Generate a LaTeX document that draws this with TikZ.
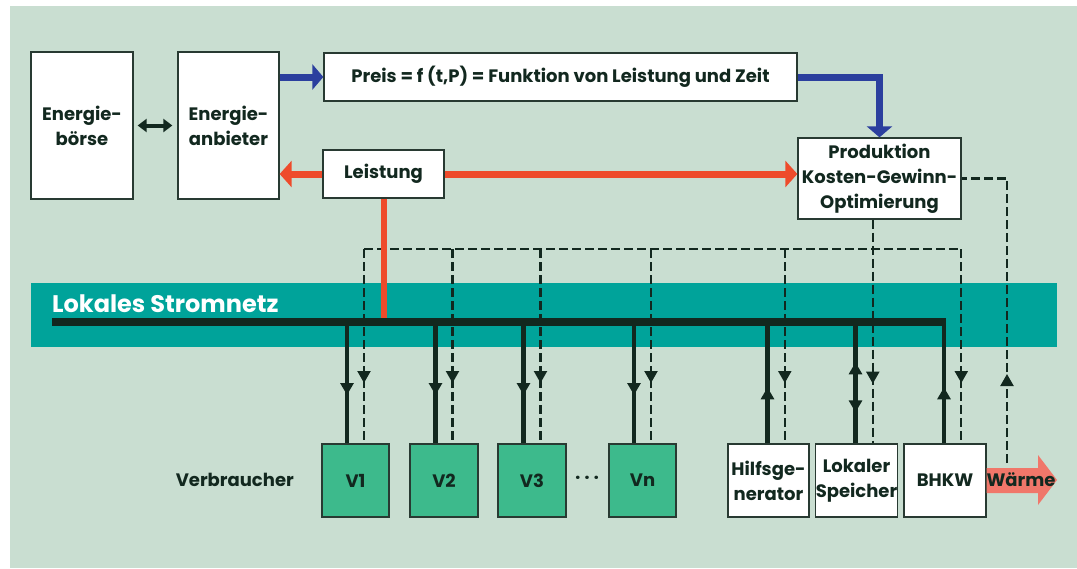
\documentclass[tikz,border=0pt]{standalone}
\usepackage{fontspec}
\setmainfont{Poppins}
\usetikzlibrary{arrows.meta,decorations.markings}
\definecolor{bgc}{RGB}{201,222,209}
\definecolor{bandc}{RGB}{0,163,154}
\definecolor{vgreen}{RGB}{61,186,140}
\definecolor{bluec}{RGB}{43,63,158}
\definecolor{redc}{RGB}{238,75,43}
\definecolor{salmon}{RGB}{240,119,106}
\definecolor{dark}{RGB}{18,40,31}
\definecolor{boxline}{RGB}{40,58,50}
\tikzset{
  txt/.style={font=\bfseries\fontsize{18}{25}\selectfont, text=dark},
  box/.style={txt, draw=boxline, line width=1.3pt, fill=white, inner sep=0pt, align=center},
  gbox/.style={box, fill=vgreen},
  fatblue/.style={draw=bluec, line width=7pt, -{Triangle[length=11pt,width=25pt]}},
  fatred/.style={draw=redc, line width=7pt, -{Triangle[length=12pt,width=26pt]}},
  busline/.style={draw=dark, line width=8pt},
  solidc/.style={draw=dark, line width=4.5pt},
  dashc/.style={draw=dark, line width=2.2pt, dash pattern=on 9pt off 4pt},
  markfwd/.style={postaction={decorate, decoration={markings, mark=at position #1 with {\arrow{Triangle[length=12pt,width=13pt]}}}}},
  markback/.style={postaction={decorate, decoration={markings, mark=at position #1 with {\arrowreversed{Triangle[length=12pt,width=13pt]}}}}},
}
\begin{document}
\begin{tikzpicture}[x=1pt,y=-1pt]
\useasboundingbox (0,0) rectangle (1077,568);
\fill[bgc] (10,6) rectangle (1077,568);
\fill[bandc] (31,283) rectangle (1057,347);
\node[anchor=base west, text=white, inner sep=0pt, font=\bfseries\fontsize{24}{24}\selectfont] (netz) at (52,312) {Lokales Stromnetz};

% top boxes
\node[box, minimum width=102pt, minimum height=147pt] (boerse) at (82,125.5) {Energie-\\börse};
\node[box, minimum width=101pt, minimum height=147pt] (anbieter) at (228.5,125.5) {Energie-\\anbieter};
\node[box, minimum width=473pt, minimum height=48pt] (preis) at (560.5,77) {Preis = f (t,P) = Funktion von Leistung und Zeit};
\node[box, minimum width=163pt, minimum height=81pt] (prod) at (879.5,178.5) {Produktion\\Kosten-Gewinn-\\Optimierung};
\node[box, minimum width=121pt, minimum height=48pt] (leistung) at (383.5,174) {Leistung};

% bottom boxes
\node[gbox, minimum width=67pt, minimum height=73pt] (v1) at (355.5,480.5) {V1};
\node[gbox, minimum width=68pt, minimum height=73pt] (v2) at (444,480.5) {V2};
\node[gbox, minimum width=68pt, minimum height=73pt] (v3) at (532,480.5) {V3};
\node[gbox, minimum width=67pt, minimum height=73pt] (vn) at (642.5,480.5) {Vn};
\node[box, minimum width=81pt, minimum height=73pt] (hilfs) at (768.5,480.5) {Hilfsge-\\nerator};
\node[box, minimum width=81pt, minimum height=73pt] (speicher) at (856.5,480.5) {Lokaler\\Speicher};
\node[box, minimum width=82pt, minimum height=73pt] (bhkw) at (945,480.5) {BHKW};
\node[txt, anchor=east, inner sep=0pt] (verb) at (294,480) {Verbraucher};
\node[txt, inner sep=0pt] (dots) at (587,480) {· · ·};

% Waerme arrow
\fill[salmon] (bhkw.east |- 0,468) -- (1038,468) -- (1038,455) -- (1057,480) -- (1038,505) -- (1038,493) -- (bhkw.east |- 0,493) -- cycle;
\node[txt, inner sep=0pt] (waerme) at (1021,480) {Wärme};

% coordinates
\coordinate (top) at (0,249);
\coordinate (bus) at (0,322);
\coordinate (busL) at (52,322);
\coordinate (busR) at (946.2,322);
\foreach \n in {v1,v2,v3,vn}{
  \coordinate (\n s) at ([xshift=-8.5pt]\n.north);
  \coordinate (\n d) at ([xshift=8.5pt]\n.north);
}
\foreach \n in {hilfs,speicher,bhkw}{
  \coordinate (\n s) at ([xshift=-1pt]\n.north);
  \coordinate (\n d) at ([xshift=16.3pt]\n.north);
}
\coordinate (wd) at (1007,463);

% dashed control lines
\draw[dashc] (v1d |- top) -- (bhkwd |- top);
\foreach \n in {v1,v2,v3,vn,hilfs,bhkw}{
  \draw[dashc, markfwd=134pt] (\n d |- top) -- (\n d);
}
\draw[dashc, markfwd=164pt] (speicherd |- prod.south) -- (speicherd);
\draw[dashc, markfwd=89pt] (wd) -- (wd |- prod.east) -- (prod.east);

% red power line
\draw[draw=redc, line width=6pt] (leistung.south) -- (leistung.south |- bus);
% bus
\draw[busline] (busL) -- (busR);
\foreach \n in {v1,v2,v3,vn}{
  \draw[solidc, markfwd=73pt] (\n s |- bus) -- (\n s);
}
\draw[solidc, markfwd=56pt] (hilfss) -- (hilfss |- bus);
\draw[solidc, markfwd=81pt, markback=31pt] (speichers) -- (speichers |- bus);
\draw[solidc, markfwd=56pt] (bhkws) -- (bhkws |- 0,318);

% top arrows
\draw[fatblue] (anbieter.east |- preis.west) -- (preis.west);
\draw[fatblue] (preis.east) -| (prod.north);
\draw[fatred] (leistung.west) -- (leistung.west -| anbieter.east);
\draw[fatred] (leistung.east) -- (leistung.east -| prod.west);
\draw[draw=dark, line width=4pt, {Triangle[length=9pt,width=13pt]}-{Triangle[length=9pt,width=13pt]}, shorten <=4pt, shorten >=5pt] (boerse.east) -- (anbieter.west);
\end{tikzpicture}
\end{document}
